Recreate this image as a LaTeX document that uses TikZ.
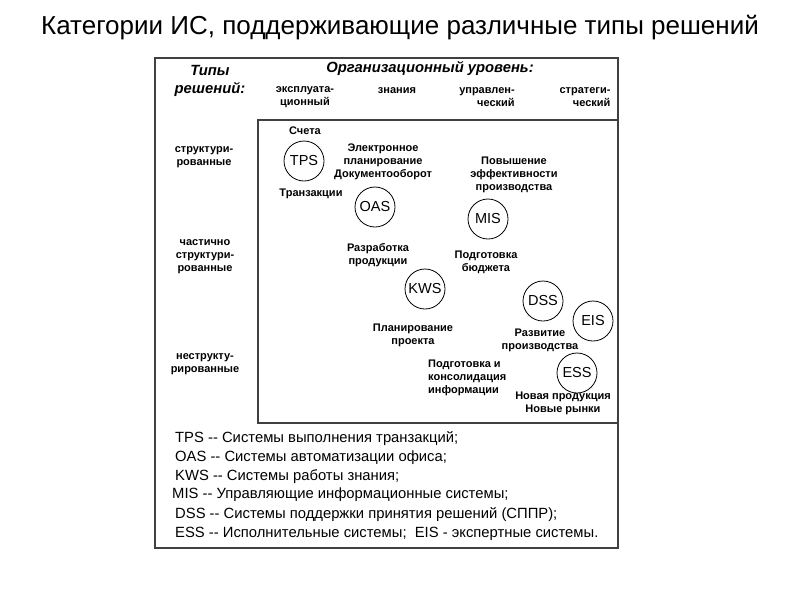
\documentclass[tikz,border=0pt]{standalone}
\usepackage{fontspec}
\setmainfont{Liberation Sans}
\begin{document}
\begin{tikzpicture}[x=1pt,y=-1pt,
  frame/.style={draw=black!75,line width=1.6pt},
  circ/.style={draw,circle,line width=0.8pt,minimum size=40pt,inner sep=0pt,font=\fontsize{14.5}{16}\selectfont},
  lbl/.style={align=center,inner sep=0pt,font=\fontsize{11}{13}\selectfont\bfseries},
  hdr/.style={align=center,inner sep=0pt,font=\fontsize{14.8}{18}\selectfont\bfseries\itshape},
  leg/.style={anchor=west,inner sep=0pt,font=\fontsize{14.8}{16}\selectfont}]
\useasboundingbox (0,0) rectangle (800,600);
% title
\node[inner sep=0pt,font=\fontsize{26}{30}\selectfont] (title) at (400,28) {Категории ИС, поддерживающие различные типы решений};
% frames
\draw[frame] (155,58) rectangle (618,548);
\draw[frame] (258,120) rectangle (618,423);
% headers
\node[hdr] (types) at (210,81) {Типы\\решений:};
\node[hdr] (org) at (430,68) {Организационный уровень:};
\node[lbl] (c1) at (305,97) {эксплуата-\\ционный};
\node[lbl] (c2) at (397,91) {знания};
\node[lbl,align=right] (c3) at (487,97) {управлен-\\ческий};
\node[lbl,align=right] (c4) at (585,97) {стратеги-\\ческий};
% rows
\node[lbl] (r1) at (204,157) {структури-\\рованные};
\node[lbl] (r2) at (205,257) {частично\\структури-\\рованные};
\node[lbl] (r3) at (205,364) {неструкту-\\рированные};
% circles
\node[circ] (tps) at (304,161) {TPS};
\node[circ] (oas) at (375,207) {OAS};
\node[circ] (mis) at (488,219) {MIS};
\node[circ] (kws) at (425,289) {KWS};
\node[circ] (dss) at (543,301) {DSS};
\node[circ] (eis) at (593,321) {EIS};
\node[circ] (ess) at (577,373) {ESS};
% labels
\node[lbl] (l1) at (305,131) {Счета};
\node[lbl] (l2) at (311,194) {Транзакции};
\node[lbl] (l3) at (383,162) {Электронное\\планирование\\Документооборот};
\node[lbl] (l4) at (514,175) {Повышение\\эффективности\\производства};
\node[lbl] (l5) at (378,255) {Разработка\\продукции};
\node[lbl] (l6) at (486,262) {Подготовка\\бюджета};
\node[lbl] (l7) at (413,335) {Планирование\\проекта};
\node[lbl] (l8) at (540,340) {Развитие\\производства};
\node[lbl,align=left,anchor=west] (l9) at (428,378) {Подготовка и\\консолидация\\информации};
\node[lbl] (l10) at (563,403) {Новая продукция\\Новые рынки};
% legend
\node[leg] (g1) at (175,439) {TPS -{}- Системы выполнения транзакций;};
\node[leg] (g2) at (175,458) {OAS -{}- Системы автоматизации офиса;};
\node[leg] (g3) at (175,477) {KWS -{}- Системы работы знания;};
\node[leg] (g4) at (172,495) {MIS -{}- Управляющие информационные системы;};
\node[leg] (g5) at (175,515) {DSS -{}- Системы поддержки принятия решений (СППР);};
\node[leg] (g6) at (175,534) {ESS -{}- Исполнительные системы;\ \ EIS - экспертные системы.};
\end{tikzpicture}
\end{document}
